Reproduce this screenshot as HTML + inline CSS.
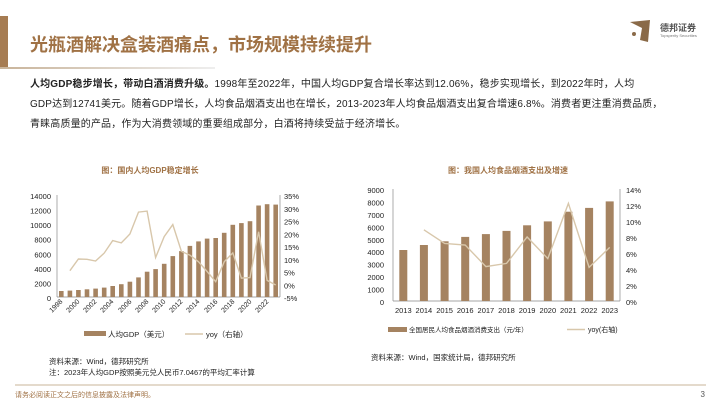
<!DOCTYPE html>
<html><head><meta charset="utf-8"><style>
body{margin:0;width:720px;height:405px;background:#fff;position:relative;overflow:hidden;font-family:"Liberation Sans","Noto Sans CJK SC",sans-serif;}
.t{position:absolute;white-space:nowrap;}
</style></head><body>
<div class="t" style="left:0;top:16px;width:8px;height:52px;background:#a67c52;"></div>
<div class="t" style="left:0;top:67px;width:215px;height:2px;background:linear-gradient(90deg,#c9b49a,#eee);"></div>
<div class="t" style="left:30px;top:31px;font-size:18px;font-weight:bold;color:#a07245;font-family:'Noto Sans CJK SC',sans-serif;">光瓶酒解决盒装酒痛点，市场规模持续提升</div>
<svg class="t" style="left:628px;top:18px" width="80" height="28"><path d="M2 4 L22 2 L20 24 L12 22 L14 10 Z" fill="#8a6a48"/><circle cx="6" cy="16" r="2" fill="#8a6a48"/></svg>
<div class="t" style="left:660px;top:21px;font-size:9px;font-weight:bold;color:#555;">德邦证券</div>
<div class="t" style="left:660px;top:33px;font-size:4px;color:#777;">Topsperity Securities</div>
<div class="t" style="left:30px;top:75px;font-size:10px;line-height:20px;color:#222;letter-spacing:0.15px;"><b>人均GDP稳步增长，带动白酒消费升级。</b>1998年至2022年，中国人均GDP复合增长率达到12.06%，稳步实现增长，到2022年时，人均<br>GDP达到12741美元。随着GDP增长，人均食品烟酒支出也在增长，2013-2023年人均食品烟酒支出复合增速6.8%。消费者更注重消费品质，<br>青睐高质量的产品，作为大消费领域的重要组成部分，白酒将持续受益于经济增长。</div>

<svg class="t" style="left:0;top:0" width="720" height="405" font-family="Liberation Sans, Noto Sans CJK SC, sans-serif">
<text x="150" y="173" font-size="8" fill="#a07245" font-weight="bold" text-anchor="middle">图：国内人均GDP稳定增长</text>
<g font-size="7.5" fill="#222" text-anchor="end">
<text x="51" y="199">14000</text><text x="51" y="213.6">12000</text><text x="51" y="228.2">10000</text><text x="51" y="242.7">8000</text><text x="51" y="257.3">6000</text><text x="51" y="271.9">4000</text><text x="51" y="286.4">2000</text><text x="51" y="301">0</text>
</g>
<g font-size="7.5" fill="#222">
<text x="284" y="199">35%</text><text x="284" y="211.8">30%</text><text x="284" y="224.5">25%</text><text x="284" y="237.3">20%</text><text x="284" y="250">15%</text><text x="284" y="262.8">10%</text><text x="284" y="275.5">5%</text><text x="284" y="288.3">0%</text><text x="284" y="301">-5%</text>
</g>
<line x1="57" y1="195" x2="57" y2="297" stroke="#888" stroke-width="0.7"/>
<line x1="280" y1="195" x2="280" y2="297" stroke="#888" stroke-width="0.7"/>
<line x1="57" y1="297" x2="280" y2="297" stroke="#888" stroke-width="0.7"/>
<g fill="#a58361">
<rect x="59" y="291" width="4.6" height="6"/><rect x="67.6" y="290.6" width="4.6" height="6.4"/><rect x="76.1" y="290" width="4.6" height="7"/><rect x="84.7" y="289.3" width="4.6" height="7.7"/><rect x="93.3" y="288.6" width="4.6" height="8.4"/><rect x="101.9" y="287.6" width="4.6" height="9.4"/><rect x="110.4" y="286" width="4.6" height="11"/><rect x="119" y="284.2" width="4.6" height="12.8"/><rect x="127.6" y="281.7" width="4.6" height="15.3"/><rect x="136.2" y="277.4" width="4.6" height="19.6"/><rect x="144.8" y="271.7" width="4.6" height="25.3"/><rect x="153.3" y="269.1" width="4.6" height="27.9"/><rect x="161.9" y="263.8" width="4.6" height="33.2"/><rect x="170.5" y="256.1" width="4.6" height="40.9"/><rect x="179.1" y="251.1" width="4.6" height="45.9"/><rect x="187.6" y="245.9" width="4.6" height="51.1"/><rect x="196.2" y="241.4" width="4.6" height="55.6"/><rect x="204.8" y="238.6" width="4.6" height="58.4"/><rect x="213.4" y="238" width="4.6" height="59"/><rect x="221.9" y="232.8" width="4.6" height="64.2"/><rect x="230.5" y="224.8" width="4.6" height="72.2"/><rect x="239.1" y="223.1" width="4.6" height="73.9"/><rect x="247.7" y="221.2" width="4.6" height="75.8"/><rect x="256.3" y="205.5" width="4.6" height="91.5"/><rect x="264.8" y="204.2" width="4.6" height="92.8"/><rect x="273.4" y="204.6" width="4.6" height="92.4"/>
</g>
<polyline fill="none" stroke="#d8c7ab" stroke-width="1.4" points="69.9,270.7 78.4,259 87,259.3 95.6,261 104.2,253.1 112.7,240.6 121.3,242.9 129.9,234 138.5,212.1 147.1,211.1 155.6,257.5 164.2,236.6 172.8,224.6 181.4,251.4 190,255.2 198.5,261.8 207.1,271.5 215.7,281.7 224.3,261.6 232.8,252.9 241.4,278.1 250,277.6 258.6,231.7 267.1,280.4 275.7,285"/>
<g font-size="7" fill="#222" text-anchor="end">
<text transform="translate(63,302) rotate(-45)">1998</text><text transform="translate(80,302) rotate(-45)">2000</text><text transform="translate(97,302) rotate(-45)">2002</text><text transform="translate(114,302) rotate(-45)">2004</text><text transform="translate(132,302) rotate(-45)">2006</text><text transform="translate(149,302) rotate(-45)">2008</text><text transform="translate(166,302) rotate(-45)">2010</text><text transform="translate(183,302) rotate(-45)">2012</text><text transform="translate(200,302) rotate(-45)">2014</text><text transform="translate(218,302) rotate(-45)">2016</text><text transform="translate(235,302) rotate(-45)">2018</text><text transform="translate(252,302) rotate(-45)">2020</text><text transform="translate(269,302) rotate(-45)">2022</text>
</g>
<rect x="84" y="331" width="22" height="5" fill="#a58361"/>
<text x="108" y="337" font-size="7.5" fill="#222">人均GDP（美元）</text>
<line x1="185" y1="334" x2="203" y2="334" stroke="#d8c7ab" stroke-width="1.4"/>
<text x="206" y="337" font-size="7.5" fill="#222">yoy（右轴）</text>
<text x="49" y="364" font-size="7.5" fill="#222">资料来源：Wind，德邦研究所</text>
<text x="49" y="375" font-size="7.5" fill="#222">注：2023年人均GDP按照美元兑人民币7.0467的平均汇率计算</text>

<text x="508" y="173" font-size="8" fill="#a07245" font-weight="bold" text-anchor="middle">图：我国人均食品烟酒支出及增速</text>
<g font-size="7.5" fill="#222" text-anchor="end">
<text x="384" y="193">9000</text><text x="384" y="205.4">8000</text><text x="384" y="217.9">7000</text><text x="384" y="230.3">6000</text><text x="384" y="242.8">5000</text><text x="384" y="255.2">4000</text><text x="384" y="267.7">3000</text><text x="384" y="280.1">2000</text><text x="384" y="292.6">1000</text><text x="384" y="305">0</text>
</g>
<g font-size="7.5" fill="#222">
<text x="626" y="193">14%</text><text x="626" y="209">12%</text><text x="626" y="225">10%</text><text x="626" y="241">8%</text><text x="626" y="257">6%</text><text x="626" y="273">4%</text><text x="626" y="289">2%</text><text x="626" y="305">0%</text>
</g>
<line x1="393" y1="189" x2="393" y2="301" stroke="#888" stroke-width="0.7"/>
<line x1="620" y1="189" x2="620" y2="301" stroke="#888" stroke-width="0.7"/>
<line x1="393" y1="301" x2="620" y2="301" stroke="#888" stroke-width="0.7"/>
<g fill="#a58361">
<rect x="399.3" y="250" width="8" height="51"/><rect x="419.9" y="245" width="8" height="56"/><rect x="440.6" y="241.3" width="8" height="59.7"/><rect x="461.2" y="236.9" width="8" height="64.1"/><rect x="481.9" y="234.1" width="8" height="66.9"/><rect x="502.5" y="230.9" width="8" height="70.1"/><rect x="523.1" y="225.3" width="8" height="75.7"/><rect x="543.8" y="221.4" width="8" height="79.6"/><rect x="564.4" y="211.7" width="8" height="89.3"/><rect x="585.1" y="207.9" width="8" height="93.1"/><rect x="605.7" y="201.4" width="8" height="99.6"/>
</g>
<polyline fill="none" stroke="#d8c7ab" stroke-width="1.4" points="423.9,229.8 444.6,243.4 465.2,245 485.9,266.6 506.5,263.4 527.1,237 547.8,258.6 568.4,203.4 589.1,267.4 609.7,247.4"/>
<g font-size="7.5" fill="#222" text-anchor="middle">
<text x="403.3" y="313">2013</text><text x="423.9" y="313">2014</text><text x="444.6" y="313">2015</text><text x="465.2" y="313">2016</text><text x="485.9" y="313">2017</text><text x="506.5" y="313">2018</text><text x="527.1" y="313">2019</text><text x="547.8" y="313">2020</text><text x="568.4" y="313">2021</text><text x="589.1" y="313">2022</text><text x="609.7" y="313">2023</text>
</g>
<rect x="388" y="327" width="19" height="5" fill="#a58361"/>
<text x="409" y="332" font-size="6.5" fill="#222">全国居民人均食品烟酒消费支出（元/年）</text>
<line x1="567" y1="329.5" x2="585" y2="329.5" stroke="#d8c7ab" stroke-width="1.4"/>
<text x="588" y="332" font-size="7" fill="#222">yoy(右轴)</text>
<text x="371" y="360" font-size="7.5" fill="#222">资料来源：Wind，国家统计局，德邦研究所</text>

<line x1="15" y1="385" x2="706" y2="385" stroke="#c9b49a" stroke-width="1"/>
<text x="15" y="397" font-size="7" fill="#a07245">请务必阅读正文之后的信息披露及法律声明。</text>
<text x="705" y="397" font-size="8" fill="#555" text-anchor="end">3</text>
</svg>
</body></html>
